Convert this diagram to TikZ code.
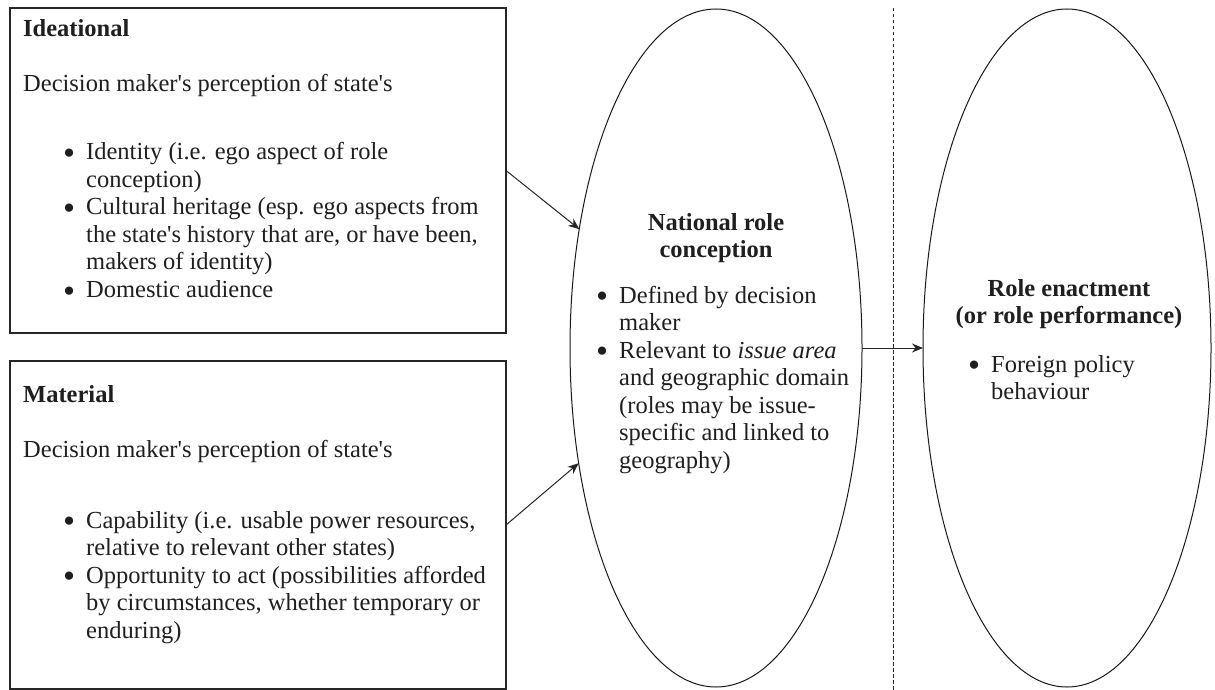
\documentclass[tikz,border=0pt]{standalone}
\usepackage{fontspec}
\setmainfont{Liberation Serif}
\usetikzlibrary{shapes.geometric,arrows.meta}
\newcommand{\txtlines}[1]{\begin{tabular}[t]{@{}l@{}}#1\end{tabular}}
\newcommand{\ctrlines}[1]{\begin{tabular}[t]{@{}c@{}}#1\end{tabular}}
\newcommand{\bu}{\makebox[23pt][l]{\raisebox{-0.2em}{\scalebox{1.4}{\textbullet}}}}
\newcommand{\ct}{\hspace*{23pt}}
\newcommand{\apos}{\textquotesingle}
\begin{document}
\begin{tikzpicture}[x=1pt,y=-1pt,
  box/.style={draw=black!85, line width=1.1pt, minimum width=496pt, minimum height=325pt, anchor=north west, inner sep=0pt, outer sep=0pt},
  oval/.style={ellipse, draw=black!90, line width=1pt, inner sep=0pt, outer sep=0pt, minimum height=678pt},
  txt/.style={anchor=base west, inner sep=0pt, text=black!88, font=\fontsize{24.5}{27.5}\selectfont},
  ctxt/.style={txt, anchor=base},
  conn/.style={draw=black!85, line width=1pt, -{Stealth[length=11pt,width=9pt]}},
  divider/.style={draw=black!85, line width=1pt, dash pattern=on 3.5pt off 2.5pt}
]
\useasboundingbox (0,0) rectangle (1215,690);
\fill[white] (0,0) rectangle (1215,690);

% boxes
\node[box] (ideal) at (10,8) {};
\node[box, minimum height=328pt] (mat) at (10,361) {};

% ellipses
\node[oval, minimum width=292pt] (e1) at (716,348) {};
\node[oval, minimum width=288pt] (e2) at (1067,348) {};

% dashed divider
\coordinate (dtop) at (893,8);
\coordinate (dbot) at (893,690);
\draw[divider] (dtop) -- (dbot);

% ideational text
\node[txt] (idhead) at (23,37) {\bfseries Ideational};
\node[txt] (iddesc) at (23,92) {Decision maker\apos s perception of state\apos s};
\node[txt] (idlist) at (63,160) {\txtlines{%
\bu Identity (i.e. ego aspect of role\\
\ct conception)\\
\bu Cultural heritage (esp. ego aspects from\\
\ct the state\apos s history that are, or have been,\\
\ct makers of identity)\\
\bu Domestic audience}};

% material text
\node[txt] (mathead) at (23,402) {\bfseries Material};
\node[txt] (matdesc) at (23,457) {Decision maker\apos s perception of state\apos s};
\node[txt] (matlist) at (63,528) {\txtlines{%
\bu Capability (i.e. usable power resources,\\
\ct relative to relevant other states)\\
\bu Opportunity to act (possibilities afforded\\
\ct by circumstances, whether temporary or\\
\ct enduring)}};

% national role conception
\node[ctxt] (nrchead) at (716,230) {\bfseries\ctrlines{National role\\conception}};
\node[txt] (nrclist) at (596,303) {\txtlines{%
\bu Defined by decision\\
\ct maker\\
\bu Relevant to \textit{issue area}\\
\ct and geographic domain\\
\ct (roles may be issue-\\
\ct specific and linked to\\
\ct geography)}};

% role enactment
\node[ctxt] (rehead) at (1069,296) {\bfseries\ctrlines{Role enactment\\(or role performance)}};
\node[txt] (relist) at (968,372) {\txtlines{%
\bu Foreign policy\\
\ct behaviour}};

% connectors
\draw[conn] (ideal.east) -- (e1.139.7);
\draw[conn] (mat.east) -- (e1.220.6);
\draw[conn] (e1.east) -- (e2.west);
\end{tikzpicture}
\end{document}
